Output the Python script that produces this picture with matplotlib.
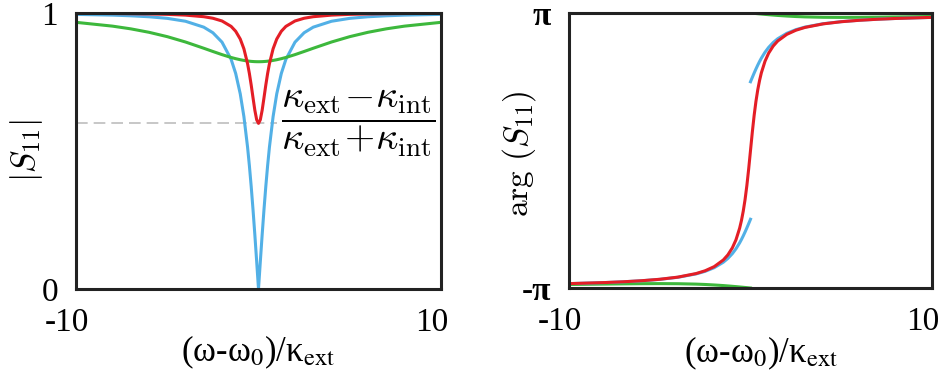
import numpy as np
import matplotlib.pyplot as plt
from matplotlib.transforms import ScaledTranslation

# detuning (omega - omega_0) / kappa_ext
delta = [-10, -8, -7, -6, -5, -4, -3, -2.5, -2, -1.5, -1.25, -1, -0.8, -0.6, -0.5, -0.4, -0.3, -0.2, -0.1,
         0, 0.1, 0.2, 0.3, 0.4, 0.5, 0.6, 0.8, 1, 1.25, 1.5, 2, 2.5, 3, 4, 5, 6, 7, 8, 10]
delta_lo = delta[:20]   # -10 .. 0
delta_hi = delta[19:]   # 0 .. 10

# |S11|
mag_red = [0.9988, 0.9981, 0.9975, 0.9966, 0.9951, 0.9923, 0.9866, 0.9810, 0.9711, 0.9515, 0.9338, 0.9057,
           0.8703, 0.8167, 0.7809, 0.7389, 0.6927, 0.6476, 0.6132,
           0.6,
           0.6132, 0.6476, 0.6927, 0.7389, 0.7809, 0.8167, 0.8703, 0.9057, 0.9338, 0.9515, 0.9711, 0.9810,
           0.9866, 0.9923, 0.9951, 0.9966, 0.9975, 0.9981, 0.9988]
mag_blue = [0.9950, 0.9923, 0.9899, 0.9864, 0.9806, 0.9701, 0.9487, 0.9285, 0.8944, 0.8321, 0.7809, 0.7071,
            0.6247, 0.5145, 0.4472, 0.3714, 0.2873, 0.1961, 0.0995,
            0.0,
            0.0995, 0.1961, 0.2873, 0.3714, 0.4472, 0.5145, 0.6247, 0.7071, 0.7809, 0.8321, 0.8944, 0.9285,
            0.9487, 0.9701, 0.9806, 0.9864, 0.9899, 0.9923, 0.9950]
mag_green = [0.9662, 0.9524, 0.9426, 0.9301, 0.9143, 0.8949, 0.8723, 0.8606, 0.8492, 0.8389, 0.8345, 0.8307,
             0.8282, 0.8262, 0.8254, 0.8247, 0.8242, 0.8238, 0.8236,
             0.8235,
             0.8236, 0.8238, 0.8242, 0.8247, 0.8254, 0.8262, 0.8282, 0.8307, 0.8345, 0.8389, 0.8492, 0.8606,
             0.8723, 0.8949, 0.9143, 0.9301, 0.9426, 0.9524, 0.9662]
depth_red = 0.6

# arg(S11)
phase_red = [-3.0417, -3.0169, -2.9991, -2.9753, -2.9423, -2.8931, -2.8118, -2.7477, -2.6533, -2.5018, -2.3864,
             -2.2242, -2.0401, -1.7772, -1.6020, -1.3868, -1.1222, -0.7997, -0.4193,
             0.0,
             0.4193, 0.7997, 1.1222, 1.3868, 1.6020, 1.7772, 2.0401, 2.2242, 2.3864, 2.5018, 2.6533, 2.7477,
             2.8118, 2.8931, 2.9423, 2.9753, 2.9991, 3.0169, 3.0417]
phase_blue_lo = [-3.0419, -3.0172, -2.9997, -2.9764, -2.9442, -2.8966, -2.8198, -2.7611, -2.6779, -2.5536,
                 -2.4669, -2.3562, -2.2455, -2.1112, -2.0344, -1.9513, -1.8623, -1.7682, -1.6705, -1.5708]
phase_blue_hi = [1.5708, 1.6705, 1.7682, 1.8623, 1.9513, 2.0344, 2.1112, 2.2455, 2.3562, 2.4669, 2.5536,
                 2.6779, 2.7611, 2.8198, 2.8966, 2.9442, 2.9764, 2.9997, 3.0172, 3.0419]
phase_green_lo = [-3.0618, -3.0517, -3.0470, -3.0431, -3.0414, -3.0438, -3.0529, -3.0611, -3.0725, -3.0860,
                  -3.0942, -3.1030, -3.1101, -3.1177, -3.1216, -3.1255, -3.1295, -3.1335, -3.1376, -3.1416]
phase_green_hi = [3.1416, 3.1376, 3.1335, 3.1295, 3.1255, 3.1216, 3.1177, 3.1101, 3.1030, 3.0942, 3.0860,
                  3.0725, 3.0611, 3.0529, 3.0438, 3.0414, 3.0431, 3.0470, 3.0517, 3.0618]

red = '#e41e26'
blue = '#52b0e6'
green = '#3db83c'
lw = 2.2
serif = 'Liberation Serif'

fig = plt.figure(figsize=(9.46, 3.74), dpi=100)
ax1 = fig.add_axes([76/946, 85/374, 365/946, 276/374])
ax2 = fig.add_axes([569/946, 86/374, 363/946, 275/374])

# left: magnitude
ax1.axhline(depth_red, xmin=0, xmax=0.55, color='#bdbdbd', lw=1.2, dashes=(7, 3.6), zorder=1)
ax1.plot(delta, mag_blue, color=blue, lw=lw)
ax1.plot(delta, mag_green, color=green, lw=lw)
ax1.plot(delta, mag_red, color=red, lw=lw)
ax1.set_xlim(-10, 10)
ax1.set_ylim(0, 1)
ax1.set_yticks([0, 1])
ax1.set_yticklabels(['0', '1'])
ax1.set_ylabel(r'$|S_{11}|$', fontsize=24, math_fontfamily='cm')
ax1.yaxis.set_label_coords(-0.085, 0.5)
ax1.text(1.25, depth_red,
         r'$\dfrac{\kappa_{\rm ext}\!-\!\kappa_{\rm int}}{\kappa_{\rm ext}\!+\!\kappa_{\rm int}}$',
         fontsize=28, math_fontfamily='cm', ha='left', va='center')

# right: phase
ax2.plot(delta_lo, phase_green_lo, color=green, lw=lw)
ax2.plot(delta_hi, phase_green_hi, color=green, lw=lw)
ax2.plot(delta_lo, phase_blue_lo, color=blue, lw=lw)
ax2.plot(delta_hi, phase_blue_hi, color=blue, lw=lw)
ax2.plot(delta, phase_red, color=red, lw=lw)
ax2.set_xlim(-10, 10)
ax2.set_ylim(-np.pi, np.pi)
ax2.set_yticks([-np.pi, np.pi])
ax2.set_yticklabels(['-π', 'π'], fontweight='bold')
ax2.set_ylabel(r'$\arg\,(S_{11})$', fontsize=24, math_fontfamily='cm')
ax2.yaxis.set_label_coords(-0.085, 0.49)

shift = ScaledTranslation(-9/100, 0, fig.dpi_scale_trans)
for ax in (ax1, ax2):
    ax.set_xticks([-10, 10])
    ax.set_xticklabels(['-10', '10'])
    ax.tick_params(length=0, labelsize=24, pad=13)
    for lab in ax.get_xticklabels() + ax.get_yticklabels():
        lab.set_fontfamily(serif)
    for lab in ax.get_xticklabels():
        lab.set_transform(lab.get_transform() + shift)
    for sp in ax.spines.values():
        sp.set_linewidth(2.2)
        sp.set_color('#222222')
    ax.set_xlabel('(ω-ω$_0$)/κ$_{\\rm ext}$', fontsize=25, family=serif,
                  math_fontfamily='stix', labelpad=-3)
ax2.xaxis.set_label_coords(0.53, -0.17)
ax2.xaxis.label.set_va('top')

fig.savefig('out.png', dpi=100)
